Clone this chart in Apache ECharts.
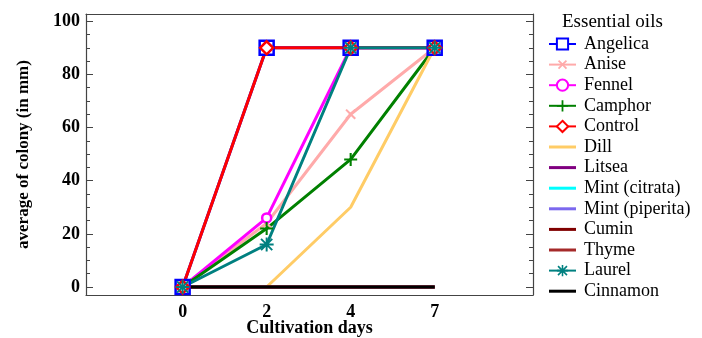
<!DOCTYPE html>
<html>
<head>
<meta charset="utf-8">
<script src="https://cdn.jsdelivr.net/npm/echarts@6/dist/echarts.min.js"></script>
<style>
  html, body { margin: 0; padding: 0; background: #fff; }
  #chart { width: 702px; height: 338px; }
</style>
</head>
<body>
<div id="chart"></div>
<script>
// days on the x axis (drawn evenly spaced)
var days = ['0', '2', '4', '7'];
var yMajor = [0, 20, 40, 60, 80, 100];
var yMinor = [0, 5, 10, 15, 20, 25, 30, 35, 40, 45, 50, 55, 60, 65, 70, 75, 80, 85, 90, 95, 100];

// average colony (mm)
var angelica  = [0, 90, 90, 90];
var anise     = [0, 24, 65, 90];
var fennel    = [0, 26, 90, 90];
var camphor   = [0, 22, 48, 90];
var control   = [0, 90, 90, 90];
var dill      = [0, 0, 30, 90];
var litsea    = [0, 0, 0, 0];
var mintCit   = [0, 0, 0, 0];
var mintPip   = [0, 0, 0, 0];
var cumin     = [0, 0, 0, 0];
var thyme     = [0, 0, 0, 0];
var laurel    = [0, 16, 90, 90];
var cinnamon  = [0, 0, 0, 0];

var plusPath = 'path://M4.2,0H5.8V4.2H10V5.8H5.8V10H4.2V5.8H0V4.2H4.2Z';
var starPath = 'path://M4.3,0H5.7V4.3H10V5.7H5.7V10H4.3V5.7H0V4.3H4.3Z M0.5,1.5L1.5,0.5L9.5,8.5L8.5,9.5Z M8.5,0.5L9.5,1.5L1.5,9.5L0.5,8.5Z';
var barPath = 'path://M0,0H27V3H0Z';

function pts(arr) {
	var out = [];
	for (var i = 0; i < arr.length; i++) {
		out.push([i, arr[i]]);
	}
	return out;
}

function mk(name, arr, color, symbol, size, filled, rotate) {
	var style;
	if (!symbol || filled) {
		style = { color: color };
	} else {
		style = { color: '#fff', borderColor: color, borderWidth: 2.5 };
	}
	return {
		name: name,
		type: 'line',
		data: pts(arr),
		symbol: symbol || 'none',
		symbolSize: size || 0,
		symbolRotate: rotate || 0,
		showSymbol: !!symbol,
		lineStyle: { color: color, width: 3 },
		itemStyle: style,
		emphasis: { disabled: true },
		animation: false
	};
}

var serif = 'Liberation Serif';

var series = [
	mk('Angelica', angelica, '#0000ff', 'rect', 14, false),
	mk('Anise', anise, '#ffaaaa', plusPath, 13, true, 45),
	mk('Fennel', fennel, '#ff00ff', 'circle', 9, false),
	mk('Camphor', camphor, '#008000', plusPath, 13, true),
	mk('Control', control, '#ff0000', 'diamond', 13, false),
	mk('Dill', dill, '#ffcc66'),
	mk('Litsea', litsea, '#800080'),
	mk('Mint (citrata)', mintCit, '#00ffff'),
	mk('Mint (piperita)', mintPip, '#7b68ee'),
	mk('Cumin', cumin, '#800000'),
	mk('Thyme', thyme, '#a52a2a'),
	mk('Laurel', laurel, '#008080', starPath, 14, true),
	mk('Cinnamon', cinnamon, '#000000')
];

var legendData = series.map(function (s) {
	if (s.symbol === 'none') {
		return { name: s.name, icon: barPath };
	}
	return { name: s.name };
});

var chart = echarts.init(document.getElementById('chart'));

var axisLineStyle = { show: true, onZero: false, lineStyle: { color: '#444', width: 1.2 } };

var option = {
	backgroundColor: '#fff',
	animation: false,
	title: {
		text: 'Essential oils',
		left: 562,
		top: 13,
		padding: 0,
		textStyle: { fontFamily: serif, fontSize: 19, fontWeight: 'normal', color: '#000' }
	},
	legend: {
		orient: 'vertical',
		left: 548,
		top: 35,
		padding: 0,
		height: 300,
		itemWidth: 27,
		itemHeight: 14,
		itemGap: 2.6,
		textStyle: { fontFamily: serif, fontSize: 18, color: '#000', padding: [0, 0, 0, 3] },
		data: legendData
	},
	grid: { left: 86, right: 169, top: 14, bottom: 43, outerBoundsMode: 'none', containLabel: false },
	xAxis: [{
		type: 'value',
		min: -1.15,
		max: 4.17,
		name: 'Cultivation days',
		nameLocation: 'middle',
		nameGap: 24,
		nameMoveOverlap: false,
		nameTextStyle: { fontFamily: serif, fontSize: 18, fontWeight: 'bold', color: '#000' },
		axisLine: axisLineStyle,
		axisTick: { show: false },
		splitLine: { show: false },
		axisLabel: {
			customValues: [0, 1, 2, 3],
			formatter: function (v) { return days[Math.round(v)]; },
			fontFamily: serif, fontSize: 18, fontWeight: 'bold', color: '#000', margin: 8
		}
	}, {
		type: 'value',
		position: 'top',
		min: -1.15,
		max: 4.17,
		axisLine: axisLineStyle,
		axisTick: { show: false },
		axisLabel: { show: false },
		splitLine: { show: false }
	}],
	yAxis: [{
		type: 'value',
		min: -3,
		max: 102.7,
		name: 'average of colony (in mm)',
		nameLocation: 'middle',
		nameGap: 54,
		nameMoveOverlap: false,
		nameTextStyle: { fontFamily: serif, fontSize: 17, fontWeight: 'bold', color: '#000' },
		axisLine: axisLineStyle,
		axisTick: { show: true, inside: true, length: 7, customValues: yMajor, lineStyle: { color: '#444' } },
		splitLine: { show: false },
		axisLabel: {
			customValues: yMajor,
			fontFamily: serif, fontSize: 18, fontWeight: 'bold', color: '#000', margin: 6
		}
	}, {
		type: 'value',
		position: 'left',
		min: -3,
		max: 102.7,
		axisLine: { show: false, onZero: false },
		axisTick: { show: true, inside: true, length: 4, customValues: yMinor, lineStyle: { color: '#444' } },
		axisLabel: { show: false },
		splitLine: { show: false }
	}, {
		type: 'value',
		position: 'right',
		min: -3,
		max: 102.7,
		axisLine: axisLineStyle,
		axisTick: { show: true, inside: true, length: 7, customValues: yMajor, lineStyle: { color: '#444' } },
		axisLabel: { show: false },
		splitLine: { show: false }
	}, {
		type: 'value',
		position: 'right',
		min: -3,
		max: 102.7,
		axisLine: { show: false, onZero: false },
		axisTick: { show: true, inside: true, length: 4, customValues: yMinor, lineStyle: { color: '#444' } },
		axisLabel: { show: false },
		splitLine: { show: false }
	}],
	series: series
};

chart.setOption(option);
</script>
</body>
</html>
